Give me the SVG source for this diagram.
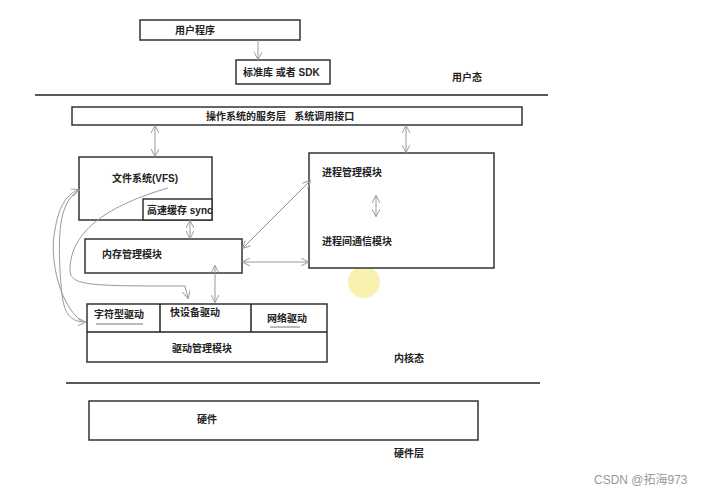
<svg xmlns="http://www.w3.org/2000/svg" width="719" height="495" viewBox="0 0 719 495">
<style>
.b{fill:#fff;stroke:#333;stroke-width:1.5}
.t{font-family:"Liberation Sans","Noto Sans CJK SC",sans-serif;font-size:10px;font-weight:bold;fill:#222}
.c{fill:none;stroke:#999;stroke-width:1}
.l{stroke:#222;stroke-width:1.5}
</style>
<defs>
<marker id="a" viewBox="0 0 10 10" refX="9" refY="5" markerWidth="8" markerHeight="8" orient="auto-start-reverse"><path d="M0,0 L10,5 L0,10" fill="none" stroke="#999" stroke-width="1.2"/></marker>
</defs>
<rect width="719" height="495" fill="#fff"/>
<circle cx="364" cy="282" r="16" fill="#f8ee9a" opacity="0.8"/>
<line class="l" x1="35" y1="95" x2="548" y2="95"/>
<line class="l" x1="66" y1="383" x2="540" y2="383"/>
<text class="t" x="452" y="81">用户态</text>
<text class="t" x="394" y="362">内核态</text>
<text class="t" x="394" y="457">硬件层</text>
<g id="user"><rect class="b" x="140" y="20" width="160" height="20"/><text class="t" x="175" y="34">用户程序</text></g>
<g id="sdk"><rect class="b" x="236" y="60" width="94" height="24"/><text class="t" x="243" y="76">标准库 或者 SDK</text></g>
<g id="syscall"><rect class="b" x="72" y="107" width="450" height="18"/><text class="t" x="206" y="120" xml:space="preserve">操作系统的服务层   系统调用接口</text></g>
<g id="vfs"><rect class="b" x="79" y="157" width="133" height="63"/><text class="t" x="112" y="182">文件系统(VFS)</text>
<rect class="b" x="143" y="199" width="69" height="21"/><text class="t" x="147" y="214">高速缓存 sync</text></g>
<g id="mem"><rect class="b" x="85" y="239" width="157" height="34"/><text class="t" x="102" y="258">内存管理模块</text></g>
<g id="proc"><rect class="b" x="309" y="153" width="185" height="115"/><text class="t" x="322" y="176">进程管理模块</text><text class="t" x="322" y="245">进程间通信模块</text></g>
<g id="drv"><rect class="b" x="87" y="304" width="240" height="58"/><line class="l" x1="87" y1="332" x2="327" y2="332"/><line class="l" x1="160" y1="304" x2="160" y2="332"/><line class="l" x1="251" y1="304" x2="251" y2="332"/>
<text class="t" x="94" y="318">字符型驱动</text><text class="t" x="170" y="316">快设备驱动</text><text class="t" x="267" y="322">网络驱动</text><text class="t" x="172" y="352">驱动管理模块</text>
<line x1="96" y1="324" x2="143" y2="324" stroke="#777"/><line x1="270" y1="327" x2="300" y2="327" stroke="#777"/></g>
<g id="hw"><rect class="b" x="89" y="401" width="389" height="39"/><text class="t" x="197" y="423">硬件</text></g>
<g id="connectors">
<line class="c" x1="258" y1="40" x2="258" y2="59" marker-end="url(#a)"/>
<line class="c" x1="406" y1="126" x2="406" y2="152" marker-start="url(#a)" marker-end="url(#a)"/>
<line class="c" x1="155" y1="126" x2="155" y2="156" marker-start="url(#a)" marker-end="url(#a)"/>
<line class="c" x1="190" y1="221" x2="190" y2="238" marker-start="url(#a)" marker-end="url(#a)"/>
<line class="c" x1="215" y1="266" x2="215" y2="302" marker-start="url(#a)" marker-end="url(#a)"/>
<line class="c" x1="243" y1="262" x2="308" y2="262" marker-start="url(#a)" marker-end="url(#a)"/>
<line class="c" x1="243" y1="248" x2="310" y2="181" marker-start="url(#a)" marker-end="url(#a)"/>
<line class="c" x1="376" y1="196" x2="376" y2="216" marker-start="url(#a)" marker-end="url(#a)"/>
<path class="c" d="M168,188 C110,205 70,230 70,270 C70,286 90,286 185,286 L188,298" marker-end="url(#a)"/>
<path class="c" d="M80,190 C60,200 58,230 60,270 C62,300 62,322 85,322" marker-end="url(#a)"/>
<path class="c" d="M82,322 C55,300 50,250 55,230 C58,210 65,195 78,190" marker-end="url(#a)"/>
</g>
<text x="594" y="484" font-family="Liberation Sans,'Noto Sans CJK SC',sans-serif" font-size="12" fill="#999">CSDN @拓海973</text>
</svg>
